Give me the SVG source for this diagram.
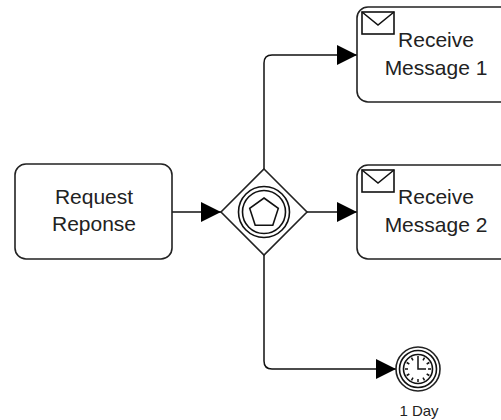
<svg xmlns="http://www.w3.org/2000/svg" width="501" height="420" viewBox="0 0 501 420">
<style>
.box{fill:#fff;stroke:#222;stroke-width:1.6}
.ln{fill:none;stroke:#111;stroke-width:1.5}
.ic{fill:none;stroke:#111;stroke-width:1.6}
.t{font-family:"Liberation Sans",Arial,sans-serif;font-size:21px;fill:#222;text-anchor:middle}
.s{font-family:"Liberation Sans",Arial,sans-serif;font-size:15px;fill:#222;text-anchor:middle}
</style>
<defs>
<marker id="arr" markerUnits="userSpaceOnUse" markerWidth="20" markerHeight="20" viewBox="0 0 18 18" refX="18" refY="9" orient="auto">
<path d="M0,0 L18,9 L0,18 Z" fill="#000"/>
</marker>
</defs>
<rect width="501" height="420" fill="#fff"/>
<g id="connectors">
<path class="ln" d="M172,212 H221" marker-end="url(#arr)"/>
<path class="ln" d="M264,169 V63 Q264,55 272,55 H357" marker-end="url(#arr)"/>
<path class="ln" d="M307,212 H357" marker-end="url(#arr)"/>
<path class="ln" d="M264,255 V361 Q264,369 272,369 H396" marker-end="url(#arr)"/>
</g>
<g id="request">
<rect class="box" x="15" y="164" width="157" height="95" rx="11"/>
<text class="t" x="94" y="204">Request</text>
<text class="t" x="94" y="231">Reponse</text>
</g>
<g id="gateway">
<polygon class="box" points="264,169 307,212 264,255 221,212"/>
<circle class="ic" cx="264" cy="212" r="25.5"/>
<circle class="ic" cx="264" cy="212" r="21.5"/>
<polygon class="ic" stroke-width="2" points="264,198 278.3,208.4 272.8,225.2 255.2,225.2 249.7,208.4"/>
</g>
<g id="receive1">
<rect class="box" x="357" y="7" width="157" height="95" rx="11"/>
<rect class="ic" stroke-width="2" x="362" y="12" width="32" height="22"/>
<path class="ic" stroke-width="2" d="M362,12 L378,25 L394,12"/>
<text class="t" x="436" y="47">Receive</text>
<text class="t" x="436" y="75">Message 1</text>
</g>
<g id="receive2">
<rect class="box" x="357" y="165" width="157" height="94" rx="11"/>
<rect class="ic" stroke-width="2" x="362" y="170" width="32" height="22"/>
<path class="ic" stroke-width="2" d="M362,170 L378,183 L394,170"/>
<text class="t" x="436" y="204">Receive</text>
<text class="t" x="436" y="232">Message 2</text>
</g>
<g id="timer">
<circle class="box" cx="418" cy="369" r="22"/>
<circle class="ic" cx="418" cy="369" r="18.5"/>
<circle class="ic" stroke-width="1.8" cx="418" cy="369" r="14.5"/>
<g stroke="#111" stroke-width="1.5">
<line x1="418" y1="356" x2="418" y2="359"/>
<line x1="418" y1="379" x2="418" y2="382"/>
<line x1="405" y1="369" x2="408" y2="369"/>
<line x1="428" y1="369" x2="431" y2="369"/>
<line x1="424.5" y1="357.7" x2="423" y2="360.3"/>
<line x1="429.3" y1="362.5" x2="426.7" y2="364"/>
<line x1="429.3" y1="375.5" x2="426.7" y2="374"/>
<line x1="424.5" y1="380.3" x2="423" y2="377.7"/>
<line x1="411.5" y1="380.3" x2="413" y2="377.7"/>
<line x1="406.7" y1="375.5" x2="409.3" y2="374"/>
<line x1="406.7" y1="362.5" x2="409.3" y2="364"/>
<line x1="411.5" y1="357.7" x2="413" y2="360.3"/>
<path fill="none" d="M418,359 V369 H426"/>
</g>
<text class="s" x="419" y="416">1 Day</text>
</g>
</svg>
